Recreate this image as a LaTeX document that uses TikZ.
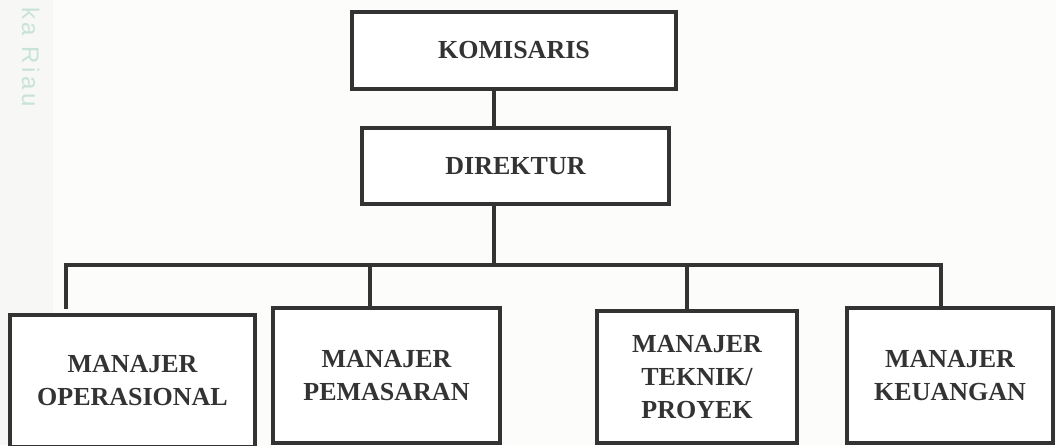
\documentclass[tikz,border=0pt]{standalone}
\usepackage{fontspec}
\setmainfont{Liberation Serif}
\setsansfont{Liberation Sans}
\newlength{\du}
\setlength{\du}{1pt}
\definecolor{dialinecolor}{rgb}{0.200000, 0.200000, 0.200000}
\definecolor{latarcolor}{rgb}{0.970000, 0.970000, 0.960000}
\definecolor{wmcolor}{rgb}{0.780000, 0.890000, 0.850000}
\tikzset{
  jabatan/.style={draw=dialinecolor, line width=3.500000\du, fill=white, align=center,
    inner sep=0pt, text=dialinecolor, font=\fontsize{26}{33}\selectfont\bfseries},
  garis/.style={draw=dialinecolor, line width=3.500000\du, line cap=rect, miter limit=4}
}

\begin{document}
\begin{tikzpicture}[x=1\du, y=-1\du]
\useasboundingbox (0,0) rectangle (1056,445);
\fill[latarcolor] (0,0) rectangle (1056,445);
\fill[white!60!latarcolor] (53,0) rectangle (1056,445);
% tanda air
\node[rotate=-90, anchor=base west, inner sep=0pt, text=wmcolor,
  font=\sffamily\fontsize{24}{24}\selectfont\addfontfeature{LetterSpace=15}] (tandaair) at (22,7) {ka Riau};
% kotak jabatan
\node[jabatan, minimum width=324\du, minimum height=77\du] (kom) at (514.000000,50.500000) {KOMISARIS};
\node[jabatan, minimum width=307\du, minimum height=76\du] (dir) at (515.500000,166.000000) {DIREKTUR};
\node[jabatan, minimum width=245\du, minimum height=132\du] (op) at (132.500000,381.000000) {MANAJER\\OPERASIONAL};
\node[jabatan, minimum width=227\du, minimum height=135\du] (pem) at (386.500000,375.500000) {MANAJER\\PEMASARAN};
\node[jabatan, minimum width=200\du, minimum height=132\du] (tek) at (697.000000,377.000000) {MANAJER\\TEKNIK/\\PROYEK};
\node[jabatan, minimum width=206\du, minimum height=135\du] (keu) at (950.000000,375.500000) {MANAJER\\KEUANGAN};
% garis komando
\coordinate (sumbu) at (494.000000,265.000000);
\coordinate (bus kiri) at (66.000000,265.000000);
\coordinate (bus kanan) at (941.000000,265.000000);
\coordinate (ujung op) at (66.000000,307.000000);
\coordinate (cab pem) at (370.000000,265.000000);
\coordinate (cab tek) at (687.000000,265.000000);
\draw[garis] (kom.south -| sumbu) -- (dir.north -| sumbu);
\draw[garis] (dir.south -| sumbu) -- (sumbu);
\draw[garis] (ujung op) -- (bus kiri) -- (bus kanan) -- (keu.north -| bus kanan);
\draw[garis] (cab pem) -- (pem.north -| cab pem);
\draw[garis] (cab tek) -- (tek.north -| cab tek);
\end{tikzpicture}
\end{document}
